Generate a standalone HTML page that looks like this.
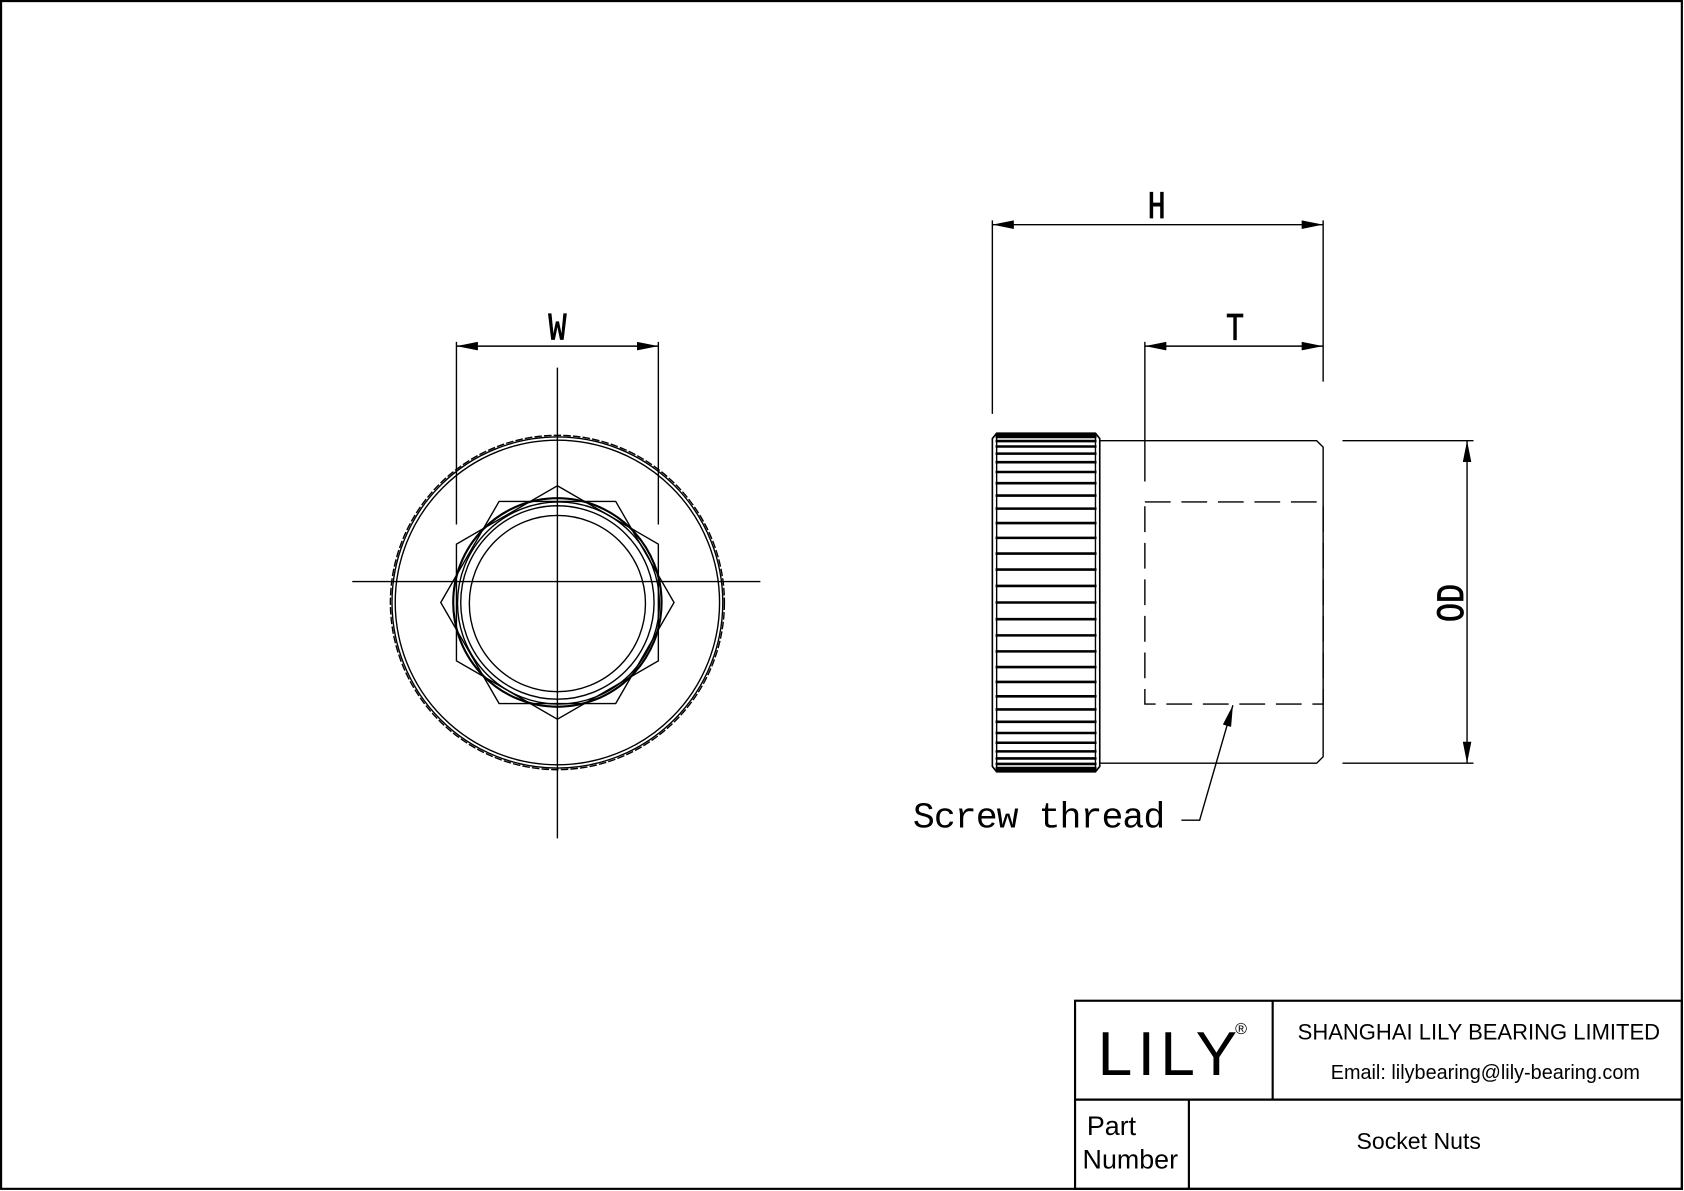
<!DOCTYPE html>
<html><head><meta charset="utf-8"><style>html,body{margin:0;padding:0;background:#fff}svg{display:block}</style></head>
<body>
<svg width="1684" height="1191" viewBox="0 0 1568 1108" preserveAspectRatio="none" xmlns="http://www.w3.org/2000/svg">
<defs>
<marker id="a" viewBox="0 0 20 8" refX="20" refY="4" markerWidth="20" markerHeight="8" markerUnits="userSpaceOnUse" orient="auto-start-reverse"><path d="M0,0 L20,4 L0,8 z" fill="#000"/></marker>
</defs>
<rect x="1" y="1" width="1565" height="1105" fill="none" stroke="#000" stroke-width="2"/>
<g fill="none" stroke="#000" stroke-width="1.3">
<line x1="519" y1="342" x2="519" y2="780"/>
<line x1="328" y1="541" x2="708" y2="541"/>
<circle cx="519" cy="560.5" r="155.5" stroke-dasharray="7 2"/>
<circle cx="519" cy="560.5" r="154"/>
<circle cx="519" cy="560.5" r="151"/>
<polygon points="410.4,560.5 464.7,466.5 573.3,466.5 627.6,560.5 573.3,654.5 464.7,654.5"/>
<polygon points="519,451.9 613,506.2 613,614.8 519,669.1 425,614.8 425,506.2"/>
<circle cx="519" cy="560.5" r="97" stroke-width="2"/>
<circle cx="520" cy="561" r="94"/>
<circle cx="519" cy="560.5" r="90"/>
<circle cx="519" cy="561.5" r="82"/>
<line x1="425" y1="318" x2="425" y2="488"/>
<line x1="613" y1="318" x2="613" y2="488"/>
<line x1="425" y1="322" x2="613" y2="322" marker-start="url(#a)" marker-end="url(#a)"/>
<path d="M928,403 L1020,403 L1024,408 L1024,713 L1020,718 L928,718 L924,713 L924,408 Z" stroke-width="1.5"/>
<line x1="928" y1="406" x2="928" y2="715"/>
<line x1="1020" y1="406" x2="1020" y2="715"/>
<path stroke-width="2.4" d="M927,404.3H1021M927,406.5H1021M927,410.3H1021M927,415.4H1021M927,422H1021M927,430H1021M927,439.1H1021M927,449.5H1021M927,461H1021M927,473.2H1021M927,486.6H1021M927,500.4H1021M927,515H1021M927,529.9H1021M927,545.1H1021M927,560.5H1021M927,576H1021M927,591.1H1021M927,606H1021M927,620.6H1021M927,634.4H1021M927,647.8H1021M927,660H1021M927,671.5H1021M927,681.9H1021M927,691H1021M927,699H1021M927,705.6H1021M927,710.7H1021M927,714.5H1021M927,716.7H1021"/>
<path d="M1024,410 L1226,410 L1232,416 L1232,704 L1226,710 L1024,710"/>
<rect x="1066" y="467" width="166" height="188" stroke-dasharray="24 10"/>
<line x1="924" y1="205" x2="924" y2="385"/>
<line x1="1232" y1="205" x2="1232" y2="355"/>
<line x1="924" y1="209" x2="1232" y2="209" marker-start="url(#a)" marker-end="url(#a)"/>
<line x1="1066" y1="318" x2="1066" y2="448"/>
<line x1="1066" y1="322" x2="1232" y2="322" marker-start="url(#a)" marker-end="url(#a)"/>
<line x1="1250" y1="410" x2="1372" y2="410"/>
<line x1="1250" y1="710" x2="1372" y2="710"/>
<line x1="1366" y1="410" x2="1366" y2="710" marker-start="url(#a)" marker-end="url(#a)"/>
<polyline points="1100,763 1117,763 1148,656" marker-end="url(#a)"/>
<rect x="1001" y="931" width="565" height="175" stroke-width="2"/>
<line x1="1185" y1="931" x2="1185" y2="1023" stroke-width="2"/>
<line x1="1001" y1="1023" x2="1566" y2="1023" stroke-width="2"/>
<line x1="1107" y1="1023" x2="1107" y2="1106" stroke-width="2"/>
</g>
<g font-family="Liberation Mono, monospace" fill="#000" stroke="#000" stroke-width="0.8">
<text x="519" y="316" font-size="36" text-anchor="middle" transform="translate(519 0) scale(0.78 1) translate(-519 0)">W</text>
<text x="1077" y="203" font-size="36" text-anchor="middle" transform="translate(1077 0) scale(0.78 1) translate(-1077 0)">H</text>
<text x="1150" y="316" font-size="36" text-anchor="middle" transform="translate(1150 0) scale(0.78 1) translate(-1150 0)">T</text>
<text font-size="36" text-anchor="middle" transform="translate(1362 561) rotate(-90) scale(0.82 1)">OD</text>
</g>
<g font-family="Liberation Mono, monospace" fill="#000">
<text x="850" y="770" font-size="34" textLength="235">Screw thread</text>
</g>
<g font-family="Liberation Sans, sans-serif" fill="#000">
<text x="1022" y="1000" font-size="58" letter-spacing="5">LILY</text>
<text x="1150" y="962" font-size="15">®</text>
<text x="1377" y="967" font-size="20.5" text-anchor="middle">SHANGHAI LILY BEARING LIMITED</text>
<text x="1383" y="1004" font-size="18.5" text-anchor="middle">Email: lilybearing@lily-bearing.com</text>
<text x="1012" y="1056" font-size="25">Part</text>
<text x="1008" y="1087" font-size="25">Number</text>
<text x="1321" y="1069" font-size="21.5" text-anchor="middle">Socket Nuts</text>
</g>
</svg>
</body></html>
